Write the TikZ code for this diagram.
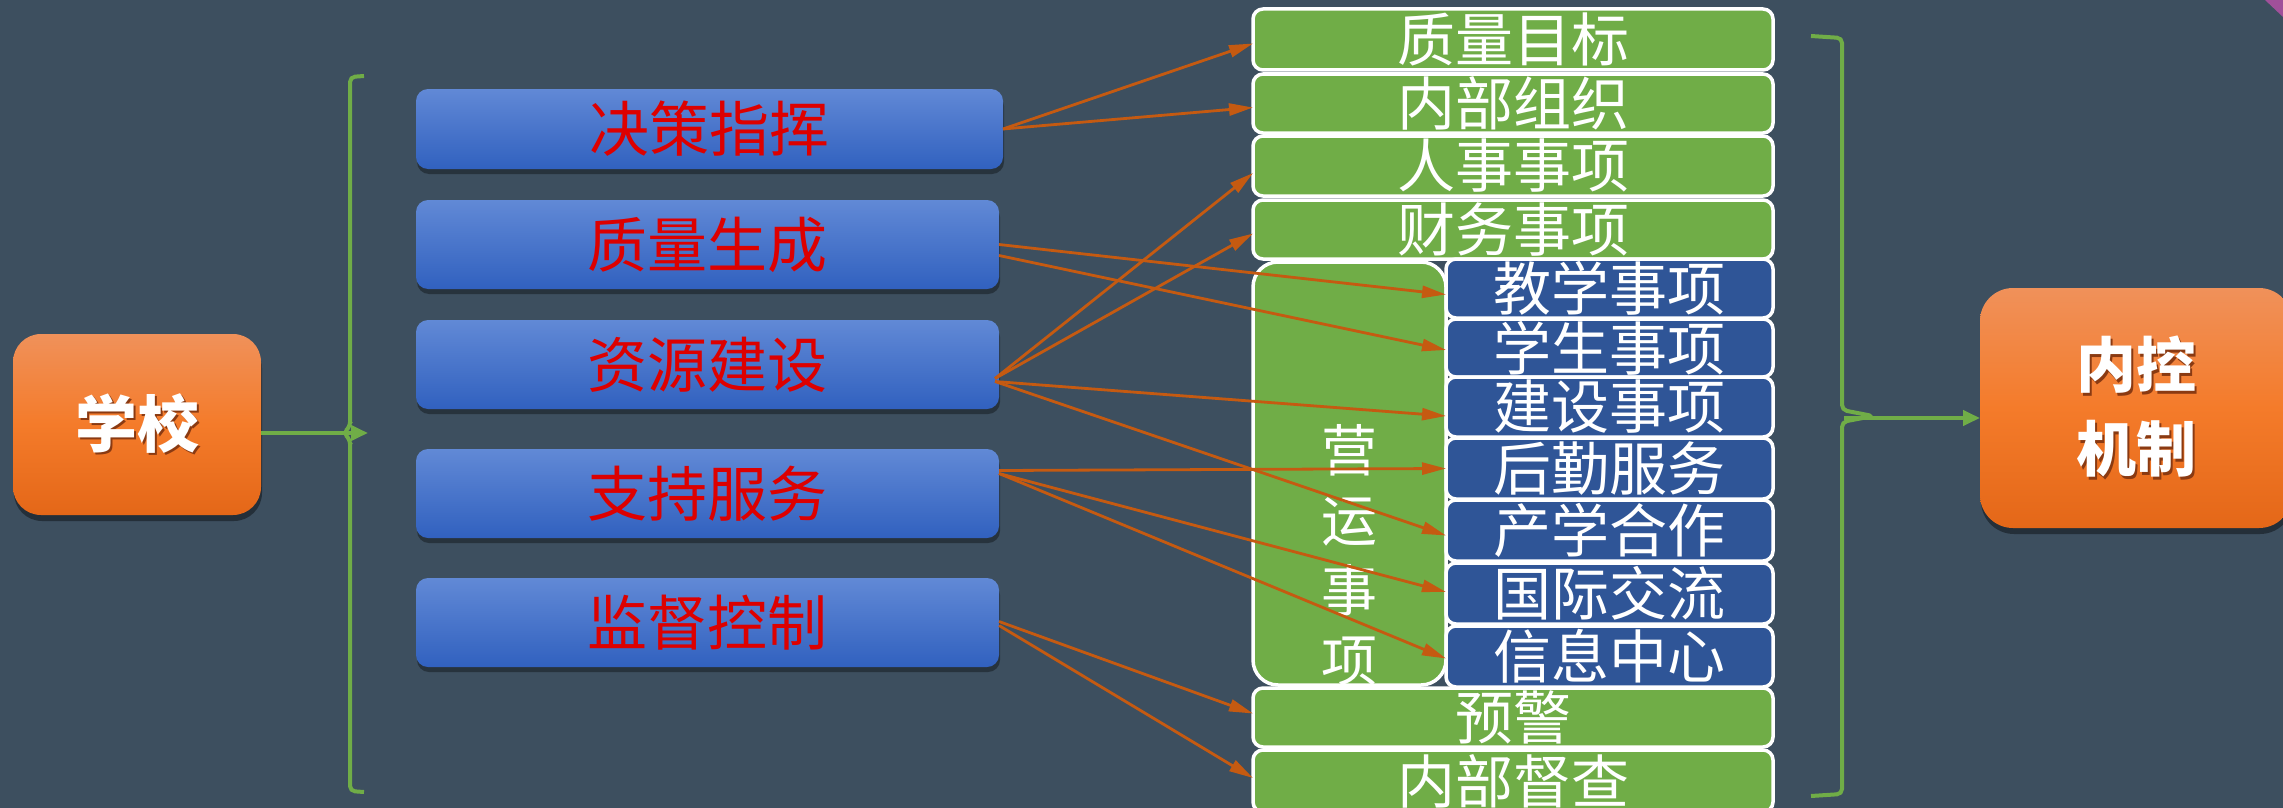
\documentclass[tikz,border=0pt]{standalone}
\usepackage{fontspec}
\setmainfont{Noto Sans CJK SC}
\usetikzlibrary{arrows.meta,shadows}
\definecolor{bg}{HTML}{3D4F5F}
\definecolor{gfill}{HTML}{70AD47}
\definecolor{dblue}{HTML}{2F5597}
\definecolor{oline}{HTML}{C55A11}
\definecolor{btop}{HTML}{6189D6}
\definecolor{bbot}{HTML}{3161BF}
\definecolor{otop}{HTML}{F0915A}
\definecolor{omid}{HTML}{F47B2A}
\definecolor{obot}{HTML}{E46718}
\definecolor{rtext}{HTML}{DD0000}
\definecolor{shc}{HTML}{8A3A12}
\definecolor{pinkc}{HTML}{A0509A}
\newcommand\shtxt[1]{\rlap{\kern2.5pt\raisebox{-2.5pt}{\color{shc}#1}}#1}
\begin{document}
\begin{tikzpicture}[x=1pt,y=-1pt,
 lbox/.style={rounded corners=12pt, top color=btop, bottom color=bbot, draw=none,
   minimum width=583pt, minimum height=89pt, inner sep=0pt, outer sep=0pt,
   text=rtext, font=\fontsize{60}{62}\selectfont,
   drop shadow={shadow xshift=1pt,shadow yshift=-5pt,opacity=.35,fill=black}},
 gbox/.style={rounded corners=10pt, fill=gfill, draw=white, line width=3.5pt,
   minimum width=520pt, minimum height=60pt, inner sep=0pt, outer sep=0pt,
   text=white, font=\fontsize{58}{60}\selectfont},
 sbox/.style={gbox, fill=dblue, minimum width=327pt},
 obox/.style={top color=otop, bottom color=obot, middle color=omid, draw=none,
   inner sep=0pt, outer sep=0pt, text=white, font=\bfseries\fontsize{60}{84}\selectfont,
   align=center,
   drop shadow={shadow xshift=1pt,shadow yshift=-6pt,opacity=.4,fill=black}},
 bracestyle/.style={draw=gfill, line width=4pt, rounded corners=5pt},
 garrow/.style={draw=gfill, line width=4pt, -{Triangle[length=17pt,width=15pt]}},
 oarrow/.style={draw=oline, line width=2.8pt, -{Triangle[length=24pt,width=12pt]}},
]
\useasboundingbox (0,0) rectangle (2283,808);
\fill[bg] (0,0) rectangle (2283,808);
\fill[pinkc] (2265,0) -- (2283,0) -- (2283,17) -- cycle;

% left column
\node[obox, rounded corners=28pt, minimum width=248pt, minimum height=181pt,
      font=\bfseries\fontsize{62}{70}\selectfont] (school) at (137,424.5) {\shtxt{学校}};
\node[lbox, minimum width=587pt, minimum height=80pt] (b1) at (709.5,129) {决策指挥};
\node[lbox] (b2) at (707.5,244.5) {质量生成};
\node[lbox] (b3) at (707.5,364.5) {资源建设};
\node[lbox] (b4) at (707.5,493.5) {支持服务};
\node[lbox] (b5) at (707.5,622.5) {监督控制};

% left brace and arrow
\coordinate (lb) at (368,433);
\draw[bracestyle] (364,76) -- (350,77) -- (350,427) -- (343,433) -- (350,439) -- (350,791) -- (364,792);
\draw[garrow] (school.east |- lb) -- (lb);

% right column
\node[gbox, minimum height=61pt] (g1) at (1513,39.5) {质量目标};
\node[gbox, minimum height=59pt] (g2) at (1513,103.5) {内部组织};
\node[gbox] (g3) at (1513,166) {人事事项};
\node[gbox, minimum height=59pt] (g4) at (1513,229.5) {财务事项};
\node[gbox, minimum width=193pt, minimum height=423pt, rounded corners=25pt] (ops) at (1349.5,473.5) {};
\node[text=white, font=\fontsize{56}{70}\selectfont, align=center, inner sep=0pt] (opstext)
      at ([yshift=-82pt]ops.center) {营\\运\\事\\项};
\node[sbox, minimum height=59pt] (t1) at (1609.5,288.5) {教学事项};
\node[sbox, minimum height=58pt] (t2) at (1609.5,348) {学生事项};
\node[sbox] (t3) at (1609.5,407) {建设事项};
\node[sbox, minimum height=61pt] (t4) at (1609.5,468.5) {后勤服务};
\node[sbox, minimum height=61pt] (t5) at (1609.5,530.5) {产学合作};
\node[sbox, minimum height=61pt] (t6) at (1609.5,593.5) {国际交流};
\node[sbox, minimum height=61pt] (t7) at (1609.5,656.5) {信息中心};
\node[gbox, minimum height=59pt] (g5) at (1513,717.5) {预警};
\node[gbox, minimum height=62pt] (g6) at (1513,781) {内部督查};

% connectors
\draw[oarrow] (b1.east) -- ([yshift=-4pt]g1.west);
\draw[oarrow] (b1.east) -- ([yshift=-4pt]g2.west);
\draw[oarrow] (b2.east) -- ([yshift=-6pt]t1.west);
\draw[oarrow] ([yshift=-11pt]b2.east) -- ([yshift=-2pt]t2.west);
\draw[oarrow] ([xshift=-4pt,yshift=-14pt]b3.east) -- ([yshift=-7pt]g3.west);
\draw[oarrow] ([xshift=-4pt,yshift=-14pt]b3.east) -- ([yshift=-4pt]g4.west);
\draw[oarrow] ([xshift=-4pt,yshift=-17pt]b3.east) -- ([yshift=-9pt]t3.west);
\draw[oarrow] ([xshift=-4pt,yshift=-17pt]b3.east) -- ([yshift=-5pt]t5.west);
\draw[oarrow] ([yshift=23pt]b4.east) -- (t4.west);
\draw[oarrow] ([yshift=20pt]b4.east) -- ([yshift=1.5pt]t6.west);
\draw[oarrow] ([yshift=20pt]b4.east) -- ([yshift=-2pt]t7.west);
\draw[oarrow] ([yshift=1pt]b5.east) -- ([yshift=4pt]g5.west);
\draw[oarrow] ([yshift=-3pt]b5.east) -- ([yshift=3pt]g6.west);

% right brace and result
\node[obox, rounded corners=33pt, minimum width=312pt, minimum height=240pt] (ctrl) at (2136,408)
      {\shtxt{内控}\\\shtxt{机制}};
\coordinate (rb) at (1844,418);
\draw[bracestyle] (1811,36) -- (1842,38) -- (1842,410) -- (1873,416) -- (1842,422) -- (1842,794) -- (1811,796);
\draw[garrow] (rb) -- (ctrl.west |- rb);
\end{tikzpicture}
\end{document}
